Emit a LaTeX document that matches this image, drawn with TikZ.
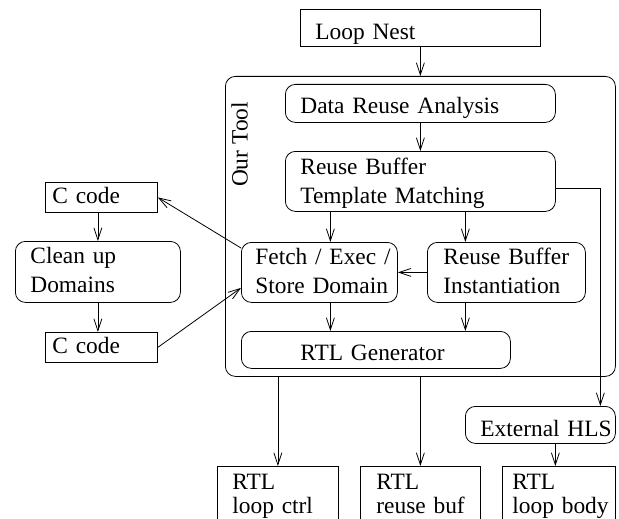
\documentclass[tikz,border=0pt]{standalone}
\usepackage{fontspec}
\setmainfont{Liberation Serif}
\usetikzlibrary{arrows.meta}
\newcommand\figfont{\fontsize{23.4}{29}\selectfont\hyphenpenalty=10000\exhyphenpenalty=10000}
\newcommand\rtlfont{\fontsize{23.4}{24.5}\selectfont\hyphenpenalty=10000\exhyphenpenalty=10000}
\tikzset{
  bx/.style={draw, line width=0.8pt, anchor=north west, inner ysep=0pt, align=left, font=\figfont},
  sq/.style={bx},
  rd/.style={bx, rounded corners=10pt},
  sl/.style={text height=#1, text depth=0pt},
  ml/.style={text height=0pt, text depth=#1},
  arr/.style={line width=0.8pt, -{Straight Barb[length=12pt,width=8pt]}},
}
\begin{document}
\begin{tikzpicture}[x=1pt,y=-1pt]
\clip (0,0) rectangle (619,519);
% container
\node[draw, line width=0.8pt, rounded corners=10pt, anchor=north west, inner sep=0pt,
      minimum width=390pt, minimum height=300pt] (tool) at (225,76) {};
\node[font=\figfont, rotate=90, inner sep=0pt] (tooltxt) at (239.5,144.5) {Our Tool};

\node[sq, minimum width=240pt, minimum height=37pt, inner xsep=15pt, text width=210pt, sl=23pt] (loop) at (300,9) {Loop~Nest};
\node[rd, minimum width=270pt, minimum height=38pt, inner xsep=15pt, text width=240pt, sl=20pt] (dra) at (285,84) {Data~Reuse~Analysis};
\node[rd, minimum width=270pt, minimum height=60pt, inner xsep=15pt, text width=240pt, ml=14pt] (rbtm) at (285,151) {Reuse~Buffer\\Template~Matching};
\node[rd, minimum width=156pt, minimum height=60pt, inner xsep=14pt, text width=128pt, ml=15pt] (fetch) at (241,242) {Fetch~/~Exec~/\\Store~Domain};
\node[rd, minimum width=158pt, minimum height=60pt, inner xsep=16pt, text width=126pt, ml=15pt] (rbi) at (427,242) {Reuse~Buffer\\Instantiation};
\node[rd, minimum width=269pt, minimum height=37pt, inner xsep=59pt, text width=151pt, sl=21pt] (rtlg) at (241,331) {RTL~Generator};
\node[rd, minimum width=150pt, minimum height=37pt, inner xsep=15pt, text width=120pt, sl=23pt] (ext) at (465,406) {External~HLS};

\node[sq, minimum width=112pt, minimum height=30pt, inner xsep=7pt, text width=98pt, sl=13pt] (c1) at (45,182) {C~code};
\node[rd, minimum width=165pt, minimum height=61pt, inner xsep=15pt, text width=135pt, ml=16pt] (clean) at (15,241) {Clean~up\\Domains};
\node[sq, minimum width=112pt, minimum height=30pt, inner xsep=7pt, text width=98pt, sl=12pt] (c2) at (45,332) {C~code};

\node[sq, font=\rtlfont, minimum width=121pt, minimum height=56pt, inner xsep=15pt, text width=91pt, ml=10pt] (ctrl) at (217,466) {RTL\\loop~ctrl};
\node[sq, font=\rtlfont, minimum width=120pt, minimum height=56pt, inner xsep=16pt, text width=88pt, ml=10pt] (rbuf) at (360,466) {RTL\\reuse~buf};
\node[sq, font=\rtlfont, minimum width=113pt, minimum height=56pt, inner xsep=10pt, text width=93pt, ml=10pt] (body) at (502,466) {RTL\\loop~body};

% helper coordinates
\coordinate (a1) at ([xshift=11pt]fetch.north);
\coordinate (a2) at ([xshift=-41pt]rbi.north);
\coordinate (a3) at ([xshift=11pt]fetch.south);
\coordinate (a4) at ([xshift=-41pt]rbi.south);
\coordinate (a5) at ([xshift=60pt]ext.north);
\coordinate (a6) at ([xshift=-3.5pt]body.north);

% connectors
\draw[arr] (loop.south) -- (tool.north);
\draw[arr] (dra.south) -- (rbtm.north);
\draw[arr] (rbtm.south -| a1) -- (a1);
\draw[arr] (rbtm.south -| a2) -- (a2);
\draw[arr] (rbi.west) -- (fetch.east);
\draw[arr] (a3) -- (a3 |- rtlg.north);
\draw[arr] (a4) -- (a4 |- rtlg.north);
\draw[arr] ([yshift=-7pt]rbtm.east) -| (a5);
\draw[arr] (tool.south -| ctrl.north) -- (ctrl.north);
\draw[arr] (tool.south -| rbuf.north) -- (rbuf.north);
\draw[arr] (ext.south -| a6) -- (a6);
\draw[arr] ([yshift=-6pt]fetch.north west) -- (c1.east);
\draw[arr] (c2.east) -- ([yshift=-15.5pt]fetch.west);
\draw[arr] (c1.south -| clean.north) -- (clean.north);
\draw[arr] (clean.south) -- (clean.south |- c2.north);
\end{tikzpicture}
\end{document}
